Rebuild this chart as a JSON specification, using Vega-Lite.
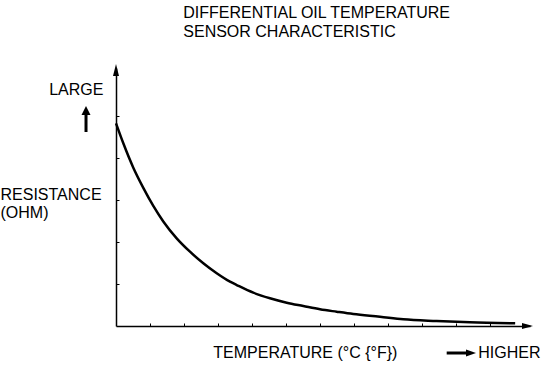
{
  "$schema": "https://vega.github.io/schema/vega-lite/v6.json",
  "width": 414,
  "height": 258,
  "autosize": "none",
  "padding": {"left": 116, "top": 68, "right": 24, "bottom": 40},
  "background": "white",
  "config": {
    "view": {"stroke": null},
    "font": "Liberation Sans",
    "axis": {"domainColor": "black", "domainWidth": 1.5, "tickColor": "black", "tickWidth": 1, "grid": false, "labels": false, "title": null}
  },
  "datasets": {
    "curve": [
      {"temp": 0, "res": 4.826},
      {"temp": 0.215, "res": 4.35},
      {"temp": 0.509, "res": 3.77},
      {"temp": 0.803, "res": 3.29},
      {"temp": 1.097, "res": 2.86},
      {"temp": 1.391, "res": 2.49},
      {"temp": 1.785, "res": 2.088},
      {"temp": 2.176, "res": 1.769},
      {"temp": 2.568, "res": 1.493},
      {"temp": 2.962, "res": 1.255},
      {"temp": 3.353, "res": 1.055},
      {"temp": 3.55, "res": 0.976},
      {"temp": 4.038, "res": 0.793},
      {"temp": 4.529, "res": 0.66},
      {"temp": 5.021, "res": 0.555},
      {"temp": 5.509, "res": 0.476},
      {"temp": 6.0, "res": 0.398},
      {"temp": 6.491, "res": 0.34},
      {"temp": 6.979, "res": 0.286},
      {"temp": 7.765, "res": 0.221},
      {"temp": 8.45, "res": 0.16},
      {"temp": 9.43, "res": 0.119},
      {"temp": 10.41, "res": 0.088},
      {"temp": 11.74, "res": 0.064}
    ],
    "titles": [
      {"x": 1.979, "y": 7.326, "label": "DIFFERENTIAL OIL TEMPERATURE"},
      {"x": 1.979, "y": 6.888, "label": "SENSOR CHARACTERISTIC"}
    ],
    "labels": [
      {"x": -1.965, "y": 5.5, "label": "LARGE"},
      {"x": -3.397, "y": 3.0, "label": "RESISTANCE"},
      {"x": -3.397, "y": 2.56, "label": "(OHM)"},
      {"x": 2.862, "y": -0.769, "label": "TEMPERATURE (°C {°F})"},
      {"x": 10.656, "y": -0.769, "label": "HIGHER"}
    ],
    "shafts": [
      {"x": -0.882, "y": 4.619, "x2": -0.882, "y2": 5.095},
      {"x": 9.726, "y": -0.643, "x2": 10.294, "y2": -0.643}
    ]
  },
  "encoding": {
    "x": {"type": "quantitative", "scale": {"domain": [0, 12.1765], "nice": false, "zero": false}},
    "y": {"type": "quantitative", "scale": {"domain": [0, 6.1429], "nice": false, "zero": false}}
  },
  "layer": [
    {
      "data": {"values": [{"x": 0, "y": 0}]},
      "mark": {"type": "point", "opacity": 0},
      "encoding": {
        "x": {"field": "x", "type": "quantitative", "axis": {"orient": "bottom", "values": [1,2,3,4,5,6,7,8,9,10,11], "tickSize": -3}},
        "y": {"field": "y", "type": "quantitative", "axis": {"orient": "left", "values": [1,2,3,4,5], "tickSize": -3}}
      }
    },
    {
      "data": {"name": "curve"},
      "mark": {"type": "line", "color": "black", "strokeWidth": 2.5, "interpolate": "monotone"},
      "encoding": {
        "x": {"field": "temp", "type": "quantitative"},
        "y": {"field": "res", "type": "quantitative"}
      }
    },
    {
      "data": {"name": "shafts"},
      "mark": {"type": "rule", "color": "black", "strokeWidth": 3},
      "encoding": {
        "x": {"field": "x", "type": "quantitative"},
        "y": {"field": "y", "type": "quantitative"},
        "x2": {"field": "x2"},
        "y2": {"field": "y2"}
      }
    },
    {
      "data": {"values": [{"x": -0.882, "y": 5.131}]},
      "mark": {"type": "point", "shape": "M0,-1L1,1L-1,1Z", "size": 81, "filled": true, "color": "black", "opacity": 1},
      "encoding": {
        "x": {"field": "x", "type": "quantitative"},
        "y": {"field": "y", "type": "quantitative"}
      }
    },
    {
      "data": {"values": [{"x": 10.4412, "y": -0.643}]},
      "mark": {"type": "point", "shape": "M1,0L-1,-0.7L-1,0.7Z", "size": 100, "filled": true, "color": "black", "opacity": 1},
      "encoding": {
        "x": {"field": "x", "type": "quantitative"},
        "y": {"field": "y", "type": "quantitative"}
      }
    },
    {
      "data": {"values": [{"x": 0, "y": 6.095}]},
      "mark": {"type": "point", "shape": "M0,-1L0.5,1L-0.5,1Z", "size": 144, "filled": true, "color": "black", "opacity": 1},
      "encoding": {
        "x": {"field": "x", "type": "quantitative"},
        "y": {"field": "y", "type": "quantitative"}
      }
    },
    {
      "data": {"values": [{"x": 12.103, "y": 0}]},
      "mark": {"type": "point", "shape": "M1,0L-1,-0.55L-1,0.55Z", "size": 121, "filled": true, "color": "black", "opacity": 1},
      "encoding": {
        "x": {"field": "x", "type": "quantitative"},
        "y": {"field": "y", "type": "quantitative"}
      }
    },
    {
      "data": {"name": "titles"},
      "mark": {"type": "text", "align": "left", "baseline": "alphabetic", "fontSize": 16, "color": "black", "font": "Liberation Sans"},
      "encoding": {
        "x": {"field": "x", "type": "quantitative"},
        "y": {"field": "y", "type": "quantitative"},
        "text": {"field": "label"}
      }
    },
    {
      "data": {"name": "labels"},
      "mark": {"type": "text", "align": "left", "baseline": "alphabetic", "fontSize": 16, "color": "black", "font": "Liberation Sans"},
      "encoding": {
        "x": {"field": "x", "type": "quantitative"},
        "y": {"field": "y", "type": "quantitative"},
        "text": {"field": "label"}
      }
    }
  ]
}
